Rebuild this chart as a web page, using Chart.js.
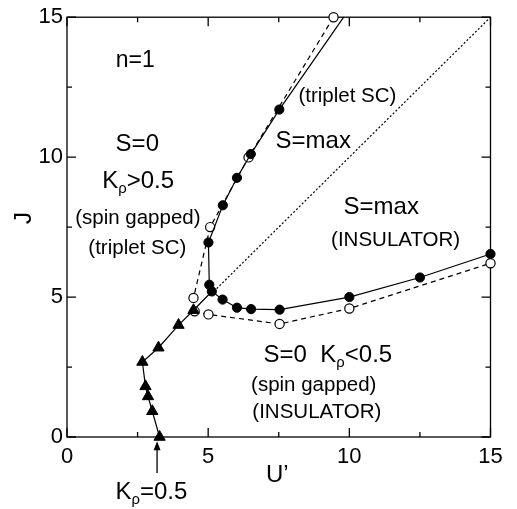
<!DOCTYPE html>
<html>
<head>
<meta charset="utf-8">
<script src="https://cdn.jsdelivr.net/npm/chart.js@4.4.0/dist/chart.umd.min.js"></script>
<style>
    html, body { margin: 0; padding: 0; background: #fff; }
    #wrap { width: 517px; height: 509px; }
</style>
</head>
<body>
<div id="wrap"><canvas id="phase" width="517" height="509"></canvas></div>
<script>
// ------------------------------
// Data
// ------------------------------
// Kρ = 0.5 boundary (triangles)
const triU = [3.28, 3.02, 2.87, 2.78, 2.67, 3.24, 3.95, 4.48];
const triJ = [0.00, 0.92, 1.45, 1.81, 2.68, 3.19, 4.00, 4.53];

// spin boundary, filled circles (solid line); first point is where the line leaves the frame
const solidU = [9.80, 7.52, 6.51, 6.02, 5.52, 5.01, 5.04, 5.13, 5.51, 6.02, 6.52, 7.53, 10.0, 12.5, 15.0];
const solidJ = [15.0, 11.70, 10.11, 9.26, 8.28, 6.95, 5.44, 5.20, 4.91, 4.62, 4.57, 4.55, 5.00, 5.70, 6.54];

// open circles (dashed), upper and lower branch
const openUpU = [9.44, 6.43, 5.07, 4.48];
const openUpJ = [15.0, 9.99, 7.50, 4.97];
const openLoU = [4.52, 5.01, 7.53, 10.0, 15.0];
const openLoJ = [4.49, 4.38, 4.04, 4.59, 6.21];

// J = U' guide (dotted)
const diagU = [5.2, 15];
const diagJ = [5.2, 15];

// axes
const axisMin = 0;
const axisMax = 15;
const majorStep = 5;
const minorStep = 2.5;

// ------------------------------
// helpers
// ------------------------------
const FONT = '"Liberation Sans", Arial, Helvetica, sans-serif';
const toXY = (us, js) => us.map((u, i) => ({ x: u, y: js[i] }));

// labels inside / around the plot, in data units
const labels = [
    { u: 2.42, j: 13.53, parts: [['n=1']], size: 23 },
    { u: 2.49, j: 10.52, parts: [['S=0']], size: 24 },
    { u: 2.52, j: 9.21, parts: [['K'], ['ρ', 'sub'], ['>0.5']], size: 24 },
    { u: 2.51, j: 7.86, parts: [['(spin gapped)']], size: 20.5 },
    { u: 2.49, j: 6.80, parts: [['(triplet SC)']], size: 20.5 },
    { u: 9.93, j: 12.22, parts: [['(triplet SC)']], size: 20.5 },
    { u: 8.72, j: 10.63, parts: [['S=max']], size: 24 },
    { u: 11.13, j: 8.29, parts: [['S=max']], size: 24 },
    { u: 11.64, j: 7.08, parts: [['(INSULATOR)']], size: 20.5 },
    { u: 9.24, j: 3.00, parts: [['S=0  K'], ['ρ', 'sub'], ['<0.5']], size: 24 },
    { u: 8.74, j: 1.90, parts: [['(spin gapped)']], size: 20.5 },
    { u: 8.85, j: 0.95, parts: [['(INSULATOR)']], size: 20.5 },
    { u: 7.45, j: -1.29, parts: [['U\u2019']], size: 24 },
    { u: 2.99, j: -1.89, parts: [['K'], ['ρ', 'sub'], ['=0.5']], size: 24 }
];

function drawRich(ctx, cx, cy, parts, size) {
    const subSize = size * 0.62;
    let total = 0;
    parts.forEach(p => {
        ctx.font = (p[1] === 'sub' ? subSize : size) + 'px ' + FONT;
        total += ctx.measureText(p[0]).width;
    });
    let x = cx - total / 2;
    const base = cy + size * 0.36;
    ctx.textAlign = 'left';
    ctx.textBaseline = 'alphabetic';
    parts.forEach(p => {
        const sub = p[1] === 'sub';
        ctx.font = (sub ? subSize : size) + 'px ' + FONT;
        ctx.fillText(p[0], x, sub ? base + size * 0.22 : base);
        x += ctx.measureText(p[0]).width;
    });
}

// frame + inward ticks on all sides
const framePlugin = {
    id: 'frame',
    beforeDatasetsDraw(chart) {
        const { ctx, chartArea: a, scales: { x, y } } = chart;
        ctx.save();
        ctx.strokeStyle = '#000';
        ctx.lineWidth = 1.3;
        ctx.strokeRect(a.left, a.top, a.right - a.left, a.bottom - a.top);
        ctx.beginPath();
        for (let v = axisMin; v <= axisMax + 1e-9; v += minorStep) {
            const len = (Math.abs(v % majorStep) < 1e-9) ? 9 : 5;
            const px = x.getPixelForValue(v);
            const py = y.getPixelForValue(v);
            ctx.moveTo(px, a.bottom); ctx.lineTo(px, a.bottom - len);
            ctx.moveTo(px, a.top); ctx.lineTo(px, a.top + len);
            ctx.moveTo(a.left, py); ctx.lineTo(a.left + len, py);
            ctx.moveTo(a.right, py); ctx.lineTo(a.right - len, py);
        }
        ctx.stroke();
        ctx.restore();
    },
    afterDraw(chart) {
        const { ctx, scales: { x, y } } = chart;
        ctx.save();
        ctx.fillStyle = '#000';
        labels.forEach(l => drawRich(ctx, x.getPixelForValue(l.u), y.getPixelForValue(l.j), l.parts, l.size));

        // y title
        ctx.translate(24, 218);
        ctx.rotate(-Math.PI / 2);
        ctx.font = '24px ' + FONT;
        ctx.textAlign = 'center';
        ctx.textBaseline = 'middle';
        ctx.fillText('J', 0, 0);
        ctx.setTransform(1, 0, 0, 1, 0, 0);

        // arrow pointing at the Kρ = 0.5 end point
        const ax = x.getPixelForValue(3.19);
        const y0 = y.getPixelForValue(-1.29);
        const y1 = y.getPixelForValue(-0.15);
        ctx.strokeStyle = '#000';
        ctx.lineWidth = 1.3;
        ctx.beginPath();
        ctx.moveTo(ax, y0); ctx.lineTo(ax, y1 + 6);
        ctx.stroke();
        ctx.beginPath();
        ctx.moveTo(ax, y1); ctx.lineTo(ax - 3.5, y1 + 9); ctx.lineTo(ax + 3.5, y1 + 9);
        ctx.closePath();
        ctx.fill();
        ctx.restore();
    }
};

// ------------------------------
// Chart
// ------------------------------
const common = { showLine: true, tension: 0, clip: false, borderColor: '#000', borderWidth: 1.2 };

const chart = new Chart(document.getElementById('phase').getContext('2d'), {
    type: 'scatter',
    data: {
        datasets: [
            {
                ...common,
                data: toXY(triU.concat([solidU[7]]), triJ.concat([solidJ[7]])),
                pointStyle: 'triangle',
                pointRadius: c => c.dataIndex === triU.length ? 0 : 6.5,
                pointBackgroundColor: '#000',
                pointBorderColor: '#000',
                pointBorderWidth: 1
            },
            {
                ...common,
                data: toXY(solidU, solidJ),
                pointRadius: c => c.dataIndex === 0 ? 0 : 4.6,
                pointBackgroundColor: '#000',
                pointBorderColor: '#000',
                pointBorderWidth: 1
            },
            {
                ...common,
                data: toXY(openUpU, openUpJ),
                borderDash: [5, 4],
                pointRadius: 4.6,
                pointBackgroundColor: '#fff',
                pointBorderColor: '#000',
                pointBorderWidth: 1.2
            },
            {
                ...common,
                data: toXY(openLoU, openLoJ),
                borderDash: [5, 4],
                pointRadius: 4.6,
                pointBackgroundColor: '#fff',
                pointBorderColor: '#000',
                pointBorderWidth: 1.2
            },
            {
                ...common,
                data: toXY(diagU, diagJ),
                borderDash: [2, 2],
                borderWidth: 1.2,
                pointRadius: 0
            }
        ]
    },
    options: {
        responsive: false,
        animation: false,
        devicePixelRatio: 1,
        layout: { padding: { top: 14, right: 26.5, left: 0, bottom: 0 } },
        plugins: { legend: { display: false }, tooltip: { enabled: false } },
        scales: {
            x: {
                type: 'linear', min: axisMin, max: axisMax,
                grid: { display: false, drawTicks: false },
                border: { display: false },
                ticks: { stepSize: majorStep, color: '#000', padding: 7, font: { family: FONT, size: 22 } },
                afterFit: s => { s.height = 72; }
            },
            y: {
                type: 'linear', min: axisMin, max: axisMax,
                grid: { display: false, drawTicks: false },
                border: { display: false },
                ticks: { stepSize: majorStep, color: '#000', padding: 4, font: { family: FONT, size: 22 } },
                afterFit: s => { s.width = 67; }
            }
        }
    },
    plugins: [framePlugin]
});
</script>
</body>
</html>
